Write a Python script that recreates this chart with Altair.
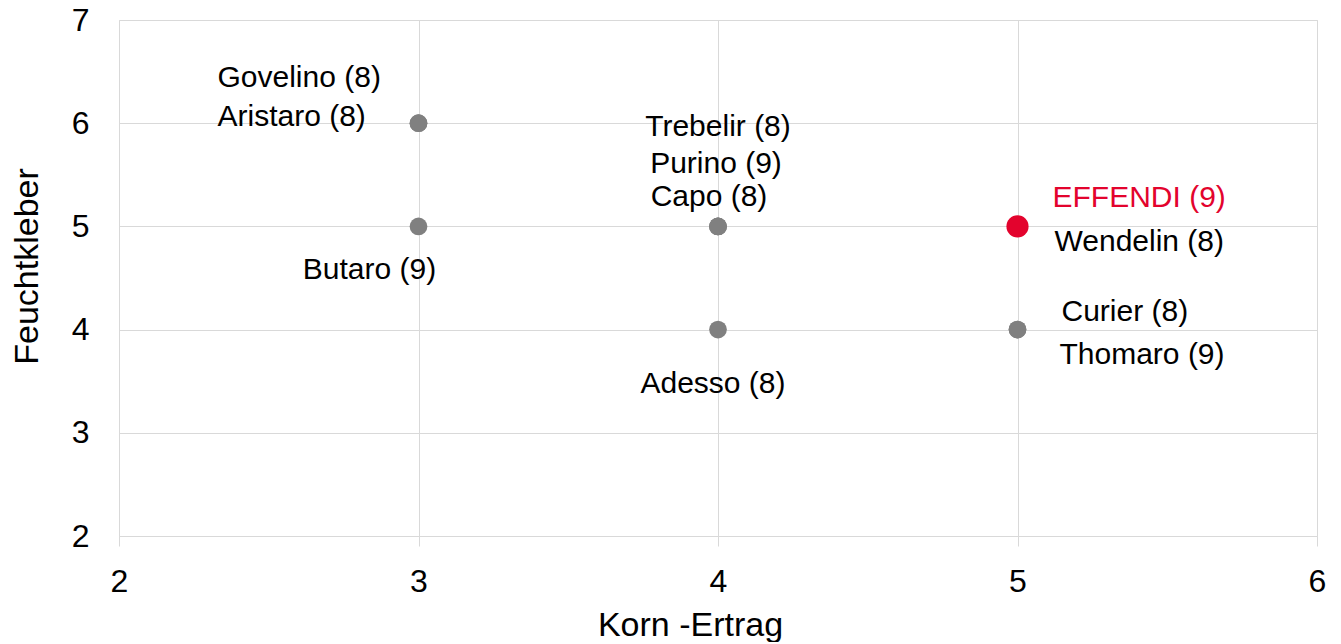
import altair as alt
import pandas as pd

# Data
sorten = ["Govelino (8)", "Aristaro (8)", "Butaro (9)", "Trebelir (8)", "Purino (9)",
          "Capo (8)", "Adesso (8)", "EFFENDI (9)", "Wendelin (8)", "Curier (8)", "Thomaro (9)"]
korn_ertrag = [3, 3, 3, 4, 4, 4, 4, 5, 5, 5, 5]
feuchtkleber = [6, 6, 5, 5, 5, 5, 4, 5, 5, 4, 4]
highlight = "EFFENDI (9)"

x_ticks = [2, 3, 4, 5, 6]
y_ticks = [2, 3, 4, 5, 6, 7]

df = pd.DataFrame({"sorte": sorten, "ertrag": korn_ertrag, "kleber": feuchtkleber})

FONT = "Liberation Sans"
GRAY = "#808080"
RED = "#E3032D"
GRID = "#d9d9d9"

x_enc = alt.X("ertrag:Q",
              scale=alt.Scale(domain=[2, 6], nice=False, zero=False),
              axis=alt.Axis(values=x_ticks, format="d", title="Korn -Ertrag", grid=True,
                            gridColor=GRID, domain=False, ticks=True, tickColor=GRID,
                            tickSize=10, labelFlush=False,
                            labelFontSize=32, labelPadding=20, labelColor="#000000",
                            titleFontSize=34, titleFontWeight="normal", titleColor="#000000",
                            titleX=571, titleY=99, titleBaseline="alphabetic",
                            labelFont=FONT, titleFont=FONT))
y_enc = alt.Y("kleber:Q",
              scale=alt.Scale(domain=[2, 7], nice=False, zero=False),
              axis=alt.Axis(values=y_ticks, format="d", title="Feuchtkleber", grid=True,
                            gridColor=GRID, domain=False, ticks=False, labelFlush=False,
                            labelFontSize=32, labelPadding=30, labelColor="#000000",
                            titleFontSize=34, titleFontWeight="normal", titleColor="#000000",
                            titleX=-82, titleY=246, titleBaseline="alphabetic",
                            labelFont=FONT, titleFont=FONT))

base = alt.Chart(df)

points = base.mark_circle(size=314, color=GRAY, opacity=1).encode(x=x_enc, y=y_enc)
red_point = base.transform_filter(alt.datum.sorte == highlight).mark_circle(
    size=490, color=RED, opacity=1).encode(x="ertrag:Q", y="kleber:Q")

# label placement relative to its point (pixels): (dx, dy, align)
placement = {
    "Govelino (8)": (-201, -45, "left"),
    "Aristaro (8)": (-201, -6, "left"),
    "Butaro (9)": (-49, 44, "center"),
    "Trebelir (8)": (0, -99, "center"),
    "Purino (9)": (-2, -62, "center"),
    "Capo (8)": (-9, -29, "center"),
    "Adesso (8)": (-5, 54, "center"),
    "EFFENDI (9)": (35, -28, "left"),
    "Wendelin (8)": (37, 16, "left"),
    "Curier (8)": (44, -18, "left"),
    "Thomaro (9)": (42, 25, "left"),
}

labels = []
for name in sorten:
    dx, dy, align = placement[name]
    labels.append(
        base.transform_filter(alt.datum.sorte == name).mark_text(
            dx=dx, dy=dy, align=align, baseline="middle", font=FONT, fontSize=30,
            color=RED if name == highlight else "#000000"
        ).encode(x="ertrag:Q", y="kleber:Q", text="sorte:N")
    )

chart = alt.layer(points, red_point, *labels).properties(
    width=1198, height=516,
    autosize=alt.AutoSizeParams(type="none"),
    padding={"left": 111, "top": 12, "right": 10, "bottom": 106},
).configure_view(strokeWidth=0).configure(background="white")

chart.save("out.html", embed_options={"renderer": "svg", "actions": False})
